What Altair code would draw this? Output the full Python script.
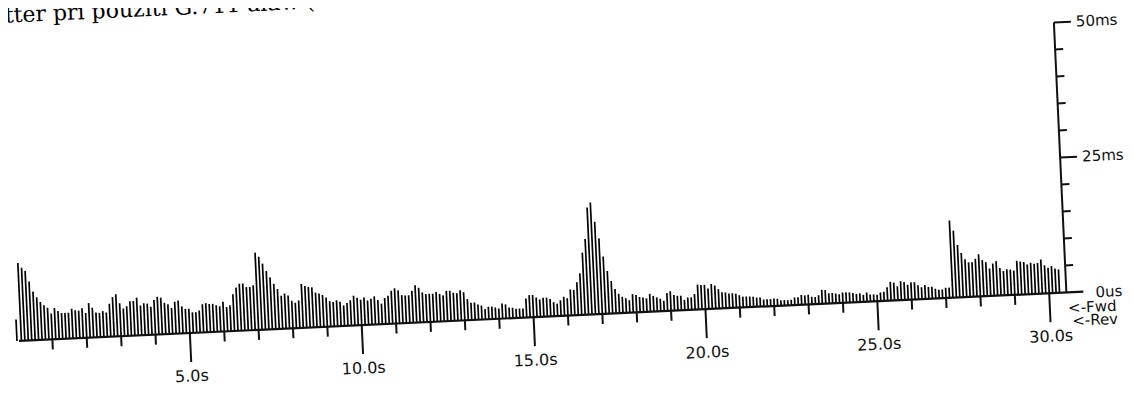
import math
import altair as alt
import pandas as pd

# ---------------- data ----------------
# jitter per 0.1 s bin (ms), bins at t = 0.1, 0.2, ... 30.3 s
jit_a = [14.4, 13.5, 12.9, 10.9, 9.0, 7.9, 7.0, 6.4, 5.9, 4.8,
         5.8, 5.2, 4.8, 4.8, 4.8, 5.5, 5.2, 5.1, 5.5, 4.6,
         6.4, 5.5, 4.6, 4.5, 4.8, 4.5, 6.1, 7.3, 7.8, 6.1,
         5.1, 5.5, 6.4, 6.4, 7.0, 5.5, 5.9, 5.8, 5.2, 6.4,
         7.0, 6.8, 5.8, 5.5, 4.8, 5.9, 6.1, 5.0, 4.5, 4.5,
         3.8, 3.8, 4.1, 5.2, 5.4, 5.2, 5.2, 4.9, 4.7, 5.5]
jit_b = [4.5, 4.8, 6.8, 8.0, 8.7, 8.7, 8.0, 8.0, 8.3, 14.3,
         13.5, 12.2, 10.8, 9.6, 8.4, 7.4, 6.1, 6.5, 6.1, 5.1,
         4.7, 5.1, 8.1, 7.7, 7.5, 7.4, 6.4, 6.2, 5.9, 5.4,
         4.7, 4.5, 4.8, 4.5, 3.8, 4.2, 4.7, 5.5, 5.1, 4.7,
         5.1, 4.5, 4.8, 5.2, 4.5, 3.8, 4.8, 5.2, 6.1, 6.5,
         6.1, 5.2, 5.1, 5.1, 5.9, 6.9, 6.4, 5.5, 5.2, 5.2, 5.2]
jit_c = [5.5, 5.1, 4.8, 5.6, 5.6, 5.2, 5.1, 5.6, 5.2, 3.9,
         3.2, 3.2, 2.8, 2.6, 1.9, 2.3, 2.3, 2.1, 1.9, 2.8,
         2.6, 2.0, 1.9, 1.7, 1.7, 1.7, 3.5, 4.1, 4.1, 3.6,
         3.2, 3.5, 3.5, 3.2, 2.6, 2.3, 2.9, 3.5, 3.2, 4.8,
         4.7, 6.1, 7.7, 11.5, 14.0, 19.8, 20.7, 17.1, 14.0, 10.6,
         7.9, 6.0, 4.5, 3.6, 3.0, 2.7, 2.3, 3.4, 3.2, 2.8, 2.7, 2.5]
jit_d = [3.3, 2.9, 2.6, 2.3, 1.9, 3.3, 3.6, 2.9, 2.7, 2.7,
         1.9, 2.3, 2.3, 2.9, 4.6, 4.5, 4.5, 3.8, 4.6, 4.3,
         3.6, 3.0, 2.9, 2.7, 2.7, 2.6, 2.3, 2.0, 2.0, 1.95,
         1.9, 1.7, 1.7, 1.3, 1.3, 1.3, 1.4, 1.3, 1.0, 1.0,
         0.95, 1.0, 1.4, 1.4, 1.8, 1.7, 1.8, 1.4, 1.3, 1.6,
         2.6, 2.5, 1.9, 1.9, 1.8, 1.6, 1.9, 1.9, 1.85, 1.7, 1.5]
jit_e = [1.6, 1.3, 1.7, 1.3, 1.3, 1.2, 1.6, 1.7, 2.5, 3.5,
         3.3, 2.6, 3.5, 3.3, 2.8, 3.2, 3.2, 2.6, 2.2, 2.6,
         2.2, 2.2, 1.8, 1.6, 1.6, 1.9, 1.9]
jit_f = [14.3, 12.4, 9.7, 8.2, 7.0, 6.4, 6.4, 7.0, 7.8, 6.7,
         6.3, 5.1, 6.0, 6.4, 5.1, 4.5, 4.8, 4.7, 4.5, 6.3,
         6.1, 6.0, 5.5, 5.8, 5.6, 5.7, 6.3, 5.2, 4.7, 5.0, 4.5, 4.3]
bin_s = 0.1
start_bar_t = [0.0]
start_bar_ms = [4.0]

x_major = [5, 10, 15, 20, 25, 30]
x_major_labels = ["5.0s", "10.0s", "15.0s", "20.0s", "25.0s", "30.0s"]
x_minor = [1, 2, 3, 4, 6, 7, 8, 9, 11, 12, 13, 14, 16, 17, 18, 19,
           21, 22, 23, 24, 26, 27, 28, 29]
x_end = 30.5
y_major = [25, 50]
y_major_labels = ["25ms", "50ms"]
y_minor = [5, 10, 15, 20, 30, 35, 40, 45]
zero_label = ["0us"]
dir_labels = ["<-Fwd", "<-Rev"]
title_text = ["Jitter při použití G.711 alaw ("]

# ---------------- geometry of the tilted (scanned) chart ----------------
TILT = 2.65
CA = math.cos(math.radians(TILT))
SA = math.sin(math.radians(TILT))
X0, Y0 = 18.0, 341.0      # page position of t = 0, jitter = 0
PX_S = 34.41              # px per second along the time axis
PX_MS = 5.406             # px per ms along the jitter axis
U_AX = x_end * PX_S
W_PAGE, H_PAGE = 1117, 377

xs = alt.Scale(domain=[8, 8 + W_PAGE], range=[0, W_PAGE], nice=False, zero=False)
ys = alt.Scale(domain=[8, 8 + H_PAGE], range=[0, H_PAGE], nice=False, zero=False)


def pos(u, w):
    return (f"{X0} + ({u}) * {CA:.6f} - ({w}) * {SA:.6f}",
            f"{Y0} - ({u}) * {SA:.6f} - ({w}) * {CA:.6f}")


def seg(df, u1, w1, u2, w2, width=2.0, color="#111111"):
    x1, y1 = pos(u1, w1)
    x2, y2 = pos(u2, w2)
    return alt.Chart(df).transform_calculate(
        X1=x1, Y1=y1, X2=x2, Y2=y2
    ).mark_rule(strokeWidth=width, color=color).encode(
        x=alt.X("X1:Q", scale=xs, axis=None),
        y=alt.Y("Y1:Q", scale=ys, axis=None),
        x2="X2:Q", y2="Y2:Q")


def txt(df, u, w, align="left", baseline="middle", size=16,
        font="DejaVu Sans", color="#111111"):
    x, y = pos(u, w)
    return alt.Chart(df).transform_calculate(X=x, Y=y).mark_text(
        align=align, baseline=baseline, fontSize=size, font=font,
        color=color, angle=360 - TILT
    ).encode(
        x=alt.X("X:Q", scale=xs, axis=None),
        y=alt.Y("Y:Q", scale=ys, axis=None),
        text="label:N")


jitter = jit_a + jit_b + jit_c + jit_d + jit_e + jit_f
bars = pd.DataFrame({"t": [round(bin_s * (i + 1), 2) for i in range(len(jitter))],
                     "v": jitter})
first = pd.DataFrame({"t": start_bar_t, "v": start_bar_ms})
base = pd.DataFrame({"t0": [0.0], "t1": [x_end]})
xmaj = pd.DataFrame({"t": x_major, "label": x_major_labels})
xmin = pd.DataFrame({"t": x_minor})
ymaj = pd.DataFrame({"v": y_major, "label": y_major_labels})
ymin = pd.DataFrame({"v": y_minor})
zero = pd.DataFrame({"label": zero_label})
dirs = pd.DataFrame({"label": dir_labels, "k": [0, 1]})
ttl = pd.DataFrame({"label": title_text})

layers = [
    txt(ttl, -14, 318.5, align="left", baseline="alphabetic", size=22,
        font="DejaVu Serif", color="#000000"),
    seg(bars, f"datum.t * {PX_S}", 0, f"datum.t * {PX_S}", f"datum.v * {PX_MS}",
        width=1.7, color="#000000"),
    seg(first, -1, 0, -1, f"datum.v * {PX_MS}", width=1.7, color="#000000"),
    # time axis line (extends past the jitter axis as the 0 tick)
    seg(base, 1, 0, f"datum.t1 * {PX_S} + 17", 0, width=2.2),
    seg(xmaj, f"datum.t * {PX_S}", 1, f"datum.t * {PX_S}", -29, width=2.0),
    seg(xmin, f"datum.t * {PX_S}", 0, f"datum.t * {PX_S}", -10, width=2.0),
    txt(xmaj, f"datum.t * {PX_S}", -43.5, align="center"),
    # jitter axis
    seg(base, U_AX, 0, U_AX, 50 * PX_MS, width=2.0),
    seg(ymaj, U_AX, f"datum.v * {PX_MS}", U_AX + 17, f"datum.v * {PX_MS}", width=2.0),
    seg(ymin, U_AX, f"datum.v * {PX_MS}", U_AX + 8, f"datum.v * {PX_MS}", width=2.0),
    txt(ymaj, U_AX + 22, f"datum.v * {PX_MS}", size=15),
    txt(zero, U_AX + 29, -1, size=15),
    txt(dirs, f"{U_AX} + 1 + datum.k * 3.5", "-15.6 - datum.k * 13.1", size=15),
]

chart = alt.layer(*layers).properties(
    width=W_PAGE, height=H_PAGE, autosize="none", padding=0
).configure(background="white", view=alt.ViewConfig(stroke=None))

chart.save("out.html", embed_options={"renderer": "svg", "actions": False})
